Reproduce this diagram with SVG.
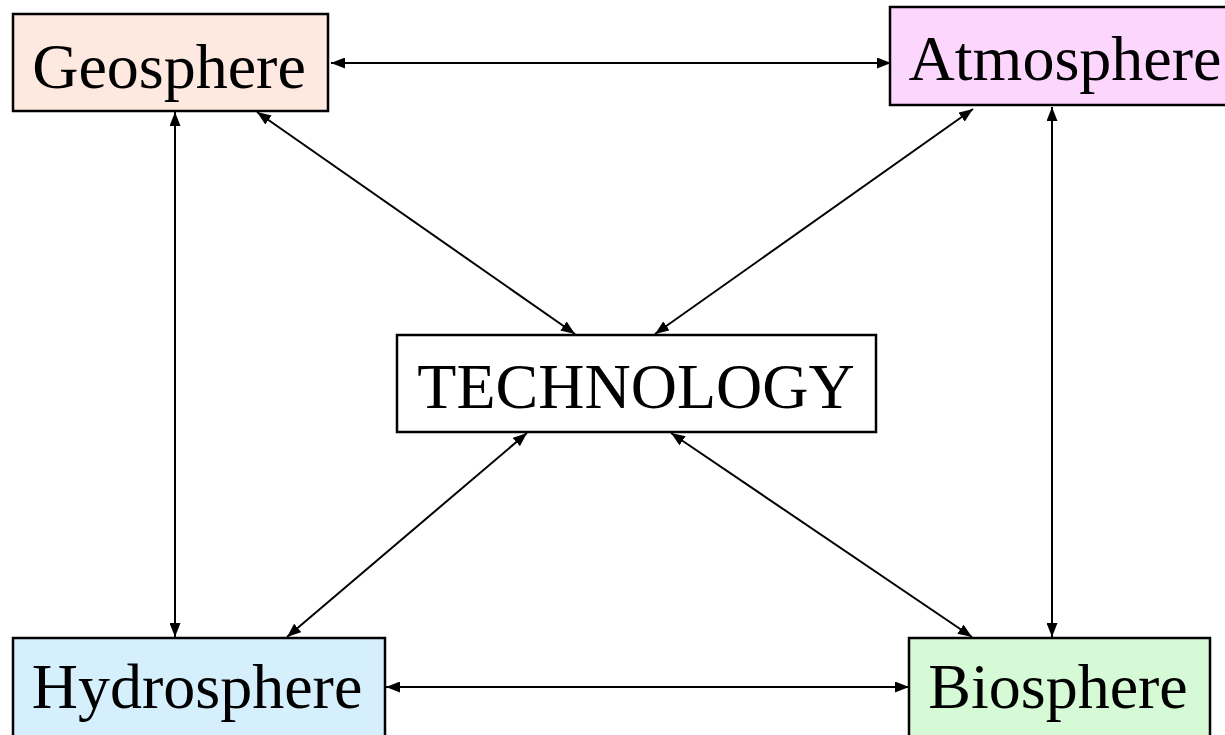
<svg xmlns="http://www.w3.org/2000/svg" width="1225" height="735" viewBox="0 0 1225 735">
  <defs>
    <marker id="arrow" viewBox="0 0 14 11" refX="14" refY="5.5" markerWidth="14" markerHeight="11" markerUnits="userSpaceOnUse" orient="auto-start-reverse">
      <path d="M0,0 L14,5.5 L0,11 Z" fill="#000"/>
    </marker>
  </defs>
  <style>
    .box { stroke: #000; stroke-width: 2.5; }
    .label { font-family: "Liberation Serif", "Times New Roman", serif; font-size: 64px; fill: #000; text-anchor: middle; }
    .link { stroke: #000; stroke-width: 2; fill: none; marker-start: url(#arrow); marker-end: url(#arrow); }
  </style>
  <rect width="1225" height="735" fill="#fff"/>

  <g id="connectors">
    <line class="link" x1="331" y1="63" x2="891" y2="63"/>
    <line class="link" x1="175" y1="112" x2="175" y2="637"/>
    <line class="link" x1="1052" y1="107" x2="1052" y2="637"/>
    <line class="link" x1="386" y1="687" x2="909" y2="687"/>
    <line class="link" x1="257" y1="112" x2="575" y2="334"/>
    <line class="link" x1="973" y1="109" x2="655" y2="334"/>
    <line class="link" x1="287" y1="637" x2="527" y2="433"/>
    <line class="link" x1="972" y1="637" x2="671" y2="433"/>
  </g>

  <g id="geosphere">
    <rect class="box" x="13" y="14" width="315" height="97" fill="#fde9e0"/>
    <text class="label" x="169" y="88">Geosphere</text>
  </g>

  <g id="atmosphere">
    <rect class="box" x="890" y="7" width="345" height="98" fill="#fdd6fd"/>
    <text class="label" x="1065" y="80">Atmosphere</text>
  </g>

  <g id="technology">
    <rect class="box" x="397" y="335" width="479" height="97" fill="#fff"/>
    <text class="label" x="636" y="408">TECHNOLOGY</text>
  </g>

  <g id="hydrosphere">
    <rect class="box" x="13" y="638" width="372" height="110" fill="#d5effd"/>
    <text class="label" x="197" y="708">Hydrosphere</text>
  </g>

  <g id="biosphere">
    <rect class="box" x="909" y="638" width="301" height="110" fill="#d5fad5"/>
    <text class="label" x="1058" y="708">Biosphere</text>
  </g>
</svg>
